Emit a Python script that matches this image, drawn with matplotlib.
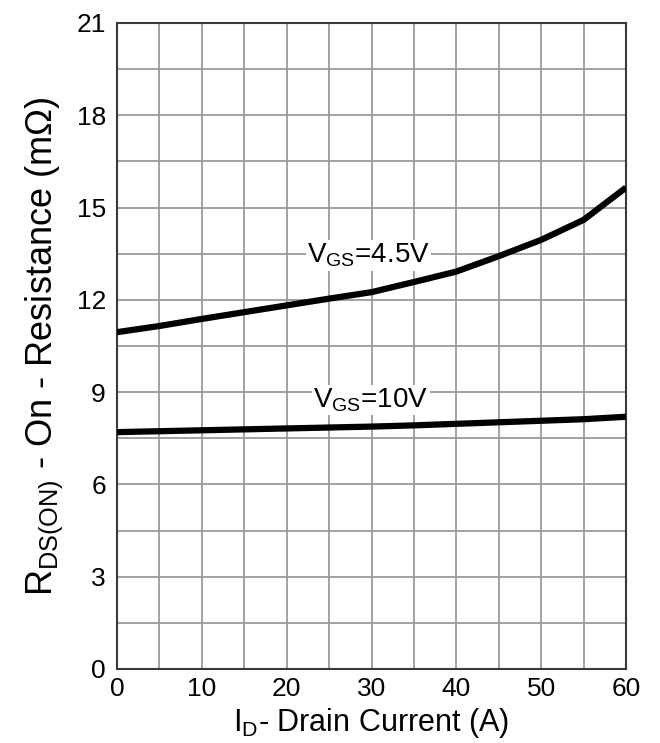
import numpy as np
import matplotlib.pyplot as plt

plt.rcParams['font.family'] = ['Liberation Sans', 'DejaVu Sans']
plt.rcParams['mathtext.fontset'] = 'custom'
plt.rcParams['mathtext.rm'] = 'Liberation Sans'

# drain current (A)
current = [0, 5, 10, 15, 20, 25, 30, 35, 40, 45, 50, 55, 60]
# on-resistance (mOhm)
rds_45v = [10.95, 11.15, 11.38, 11.6, 11.82, 12.04, 12.25, 12.58, 12.92, 13.42, 13.95, 14.6, 15.65]
rds_10v = [7.7, 7.73, 7.76, 7.79, 7.82, 7.85, 7.88, 7.92, 7.97, 8.02, 8.07, 8.12, 8.2]

xticks = [0, 10, 20, 30, 40, 50, 60]
yticks = [0, 3, 6, 9, 12, 15, 18, 21]

fig = plt.figure(figsize=(6.6, 7.43), dpi=100)
ax = fig.add_axes([117 / 660, 1 - 669 / 743, 509 / 660, 646 / 743])

ax.plot(current, rds_45v, color='black', lw=4.5, solid_capstyle='butt', zorder=3)
ax.plot(current, rds_10v, color='black', lw=4.5, solid_capstyle='butt', zorder=3)

ax.set_xlim(0, 60)
ax.set_ylim(0, 21)
ax.set_xticks(np.arange(0, 61, 5), minor=True)
ax.set_yticks(np.arange(0, 21.1, 1.5), minor=True)
ax.set_xticks(xticks)
ax.set_yticks(yticks)
ax.grid(True, which='both', color='#9a9a9a', lw=1.3)
ax.tick_params(which='both', length=0, labelsize=19)
ax.tick_params(axis='x', pad=6)
ax.tick_params(axis='y', pad=8)

for s in ax.spines.values():
    s.set_color('#3a3a3a')
    s.set_linewidth(1.5)

ax.text(36.9, 13.45, r'V$_{\mathregular{GS}}$=4.5V', fontsize=20, ha='right', va='center',
        bbox=dict(facecolor='white', edgecolor='none', pad=1), zorder=4)
ax.text(36.7, 8.75, r'V$_{\mathregular{GS}}$=10V', fontsize=20, ha='right', va='center',
        bbox=dict(facecolor='white', edgecolor='none', pad=1), zorder=4)

ax.set_xlabel(r'I$_{\mathregular{D}}$- Drain Current (A)', fontsize=22, labelpad=3)
ax.set_ylabel(r'R$_{\mathregular{DS(ON)}}$ - On - Resistance (m$\Omega$)', fontsize=26, labelpad=8)

fig.savefig('out.png', dpi=100)
